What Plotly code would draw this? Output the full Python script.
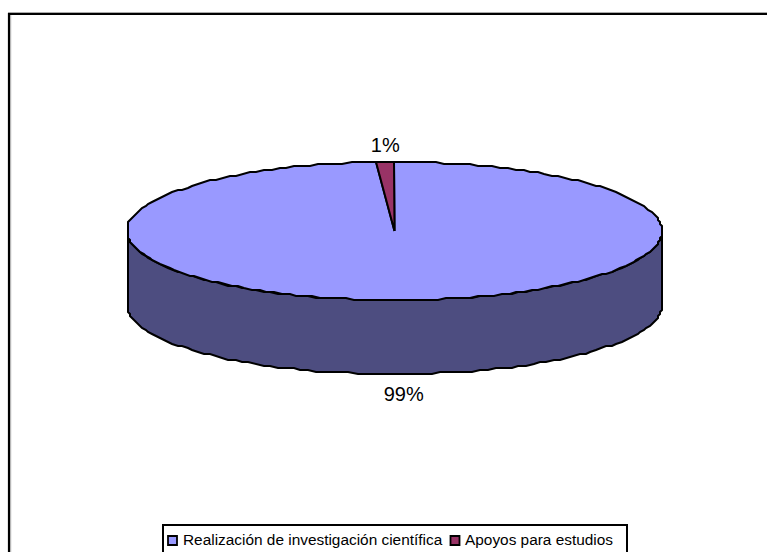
import numpy as np
import plotly.graph_objects as go

categories = ["Realización de investigación científica", "Apoyos para estudios"]
values = [98.9, 1.1]
percent_labels = ["99%", "1%"]
top_colors = ["#9999FF", "#993366"]
side_color = "#4D4D80"

W, H = 767, 552
CX, CY, RX, RY, DEPTH = 394.5, 231.0, 267.5, 69.0, 74.0
STEPS = 200
GRID = 2.0
LEGEND_BOX = (163, 525, 627, 554)
LEGEND_Y = 540.5
LEGEND_TEXT_Y = 541.5
LEGEND_ICON_X = [172.5, 455]
LEGEND_TEXT_X = [183, 465]


def rim(a0, a1, dy=0.0, n=STEPS):
    t = np.radians(np.linspace(a0, a1, max(2, int(abs(a1 - a0) / 360 * n) + 2)))
    x = CX + RX * np.sin(t)
    y = CY + dy - RY * np.cos(t)
    return np.round(x / GRID) * GRID, np.round(y / GRID) * GRID


total = sum(values)
angles = np.cumsum([0] + [v / total * 360 for v in values])

fig = go.Figure()

# side wall (front half of the disc)
xf, yf = rim(90, 270)
xb, yb = rim(270, 90, DEPTH)
fig.add_trace(go.Scatter(
    x=np.r_[xf, xb, xf[0]], y=np.r_[yf, yb, yf[0]], mode="lines", fill="toself",
    fillcolor=side_color, line=dict(color="black", width=2), hoverinfo="skip", showlegend=False))

# top face slices
for i, cat in enumerate(categories):
    xs, ys = rim(angles[i], angles[i + 1])
    fig.add_trace(go.Scatter(
        x=np.r_[CX, xs, CX], y=np.r_[CY, ys, CY], mode="lines", fill="toself",
        fillcolor=top_colors[i], line=dict(color="black", width=2), hoverinfo="skip", showlegend=False))

# percent labels
for i, lab in enumerate(percent_labels):
    mid = np.radians((angles[i] + angles[i + 1]) / 2)
    below = np.cos(mid) < 0
    fig.add_trace(go.Scatter(
        x=[CX + RX * np.sin(mid)],
        y=[CY + RY + DEPTH + 22 if below else CY - RY - 15],
        mode="text", text=[lab], textposition="middle center",
        textfont=dict(family="Liberation Sans", size=20, color="black"),
        hoverinfo="skip", showlegend=False))

# frame (top and left edges only, as in the reference)
frame = [
    (8, 14, W, 14, "black", 2.2), (8, 12.5, W, 12.5, "#AAAAAA", 1),
    (9, 13, 9, H, "black", 2.2), (10.7, 15, 10.7, H, "#AAAAAA", 1),
]
for x0, y0, x1, y1, c, w in frame:
    fig.add_shape(type="line", x0=x0, y0=y0, x1=x1, y1=y1, xref="x", yref="y",
                  line=dict(color=c, width=w))

# legend box, clipped by the page bottom
fig.add_shape(type="rect", x0=LEGEND_BOX[0], y0=LEGEND_BOX[1], x1=LEGEND_BOX[2], y1=LEGEND_BOX[3],
              xref="x", yref="y", line=dict(color="black", width=2), fillcolor="white", layer="between")

for cat, col, ix, tx in zip(categories, top_colors, LEGEND_ICON_X, LEGEND_TEXT_X):
    fig.add_trace(go.Scatter(
        x=[ix], y=[LEGEND_Y], mode="markers", hoverinfo="skip", showlegend=False,
        marker=dict(symbol="square", size=9, color=col, line=dict(color="black", width=1.8))))
    fig.add_trace(go.Scatter(
        x=[tx], y=[LEGEND_TEXT_Y], mode="text", text=[cat], textposition="middle right",
        textfont=dict(family="Liberation Sans", size=15.4, color="black"),
        hoverinfo="skip", showlegend=False))

fig.update_layout(
    width=W, height=H, margin=dict(l=0, r=0, t=0, b=0),
    paper_bgcolor="white", plot_bgcolor="white", showlegend=False,
    xaxis=dict(range=[0, W], visible=False, fixedrange=True),
    yaxis=dict(range=[H, 0], visible=False, fixedrange=True),
)
fig.write_html("out.html", post_script="document.body.style.margin='0';", config={"displayModeBar": False})
